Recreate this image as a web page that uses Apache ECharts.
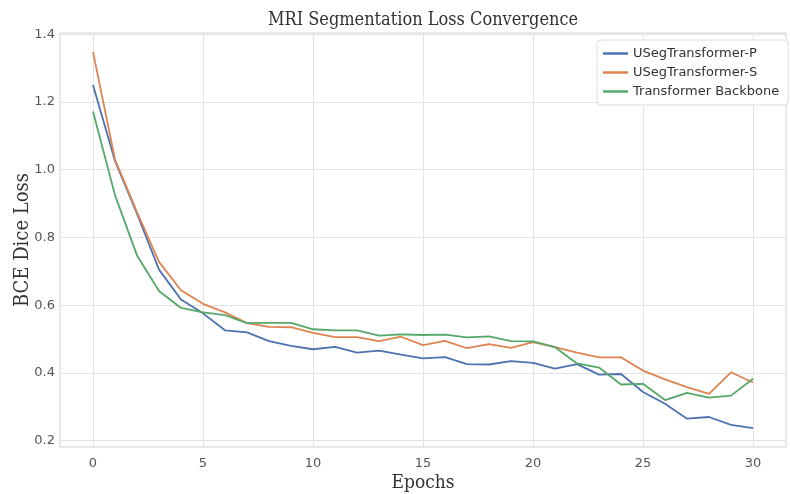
<!DOCTYPE html>
<html>
<head>
<meta charset="utf-8">
<script src="https://cdn.jsdelivr.net/npm/echarts@6/dist/echarts.min.js"></script>
<style>html,body{margin:0;padding:0;background:#fff;}#c{width:790px;height:494px;}</style>
</head>
<body>
<div id="c"></div>
<script>
const epochs = Array.from({length: 31}, (_, i) => i);
const xTicks = [0, 5, 10, 15, 20, 25, 30];
const yTicks = [0.2, 0.4, 0.6, 0.8, 1.0, 1.2, 1.4];
const seriesNames = ['USegTransformer-P', 'USegTransformer-S', 'Transformer Backbone'];
const lossP = [1.25, 1.026, 0.87, 0.705, 0.617, 0.576, 0.526, 0.52, 0.494, 0.48, 0.47, 0.477, 0.46, 0.466, 0.454, 0.443, 0.447, 0.426, 0.425, 0.435, 0.43, 0.413, 0.426, 0.395, 0.397, 0.344, 0.309, 0.265, 0.27, 0.247, 0.237];
const lossS = [1.348, 1.03, 0.875, 0.728, 0.644, 0.604, 0.579, 0.547, 0.536, 0.535, 0.518, 0.506, 0.506, 0.494, 0.507, 0.482, 0.495, 0.473, 0.485, 0.474, 0.491, 0.476, 0.46, 0.446, 0.446, 0.407, 0.381, 0.358, 0.338, 0.402, 0.372];
const lossB = [1.172, 0.925, 0.747, 0.642, 0.592, 0.579, 0.571, 0.547, 0.548, 0.548, 0.529, 0.526, 0.526, 0.510, 0.514, 0.512, 0.513, 0.505, 0.508, 0.494, 0.493, 0.476, 0.428, 0.416, 0.366, 0.368, 0.32, 0.341, 0.327, 0.333, 0.383];
const colors = ['#4c72b0', '#dd8452', '#55a868'];

const chart = echarts.init(document.getElementById('c'), null, {renderer: 'canvas'});
const allVals = lossP.concat(lossS, lossB);
const vMin = Math.min(...allVals), vMax = Math.max(...allVals);
const pad = (vMax - vMin) * 0.05;
const gridColor = '#e3e3e3';
chart.setOption({
  animation: false,
  backgroundColor: '#fff',
  title: {
    text: 'MRI Segmentation Loss Convergence',
    left: 418, top: 6, textAlign: 'center',
    textStyle: {fontFamily: 'DejaVu Serif Condensed', fontWeight: 'normal', fontSize: 18, color: '#333'}
  },
  legend: {
    orient: 'vertical', left: 597, top: 40,
    data: seriesNames,
    icon: 'rect', itemWidth: 25, itemHeight: 2.5, itemGap: 6,
    padding: [7, 9, 7, 6],
    backgroundColor: '#fff', borderColor: '#dcdcdc', borderWidth: 1, borderRadius: 4,
    textStyle: {fontFamily: 'DejaVu Sans', fontSize: 13, color: '#333'}
  },
  grid: {left: 60, right: 4, top: 33, bottom: 47, show: true, borderColor: '#d2d2d2', borderWidth: 1, backgroundColor: '#fff', containLabel: false, outerBoundsMode: 'none'},
  xAxis: {
    type: 'value', min: -1.5, max: 31.5,
    name: 'Epochs', nameLocation: 'middle', nameGap: 27, nameMoveOverlap: false,
    nameTextStyle: {fontFamily: 'DejaVu Serif Condensed', fontSize: 19, color: '#333'},
    axisLine: {show: false},
    axisTick: {show: false, customValues: xTicks},
    axisLabel: {customValues: xTicks, fontFamily: 'DejaVu Sans', fontSize: 13, color: '#555', margin: 10},
    splitLine: {show: true, lineStyle: {color: gridColor, width: 1}}
  },
  yAxis: {
    type: 'value', min: vMin - pad, max: vMax + pad,
    name: 'BCE Dice Loss', nameLocation: 'middle', nameGap: 27, nameMoveOverlap: false,
    nameTextStyle: {fontFamily: 'DejaVu Serif Condensed', fontSize: 20, color: '#333'},
    axisLine: {show: false},
    axisTick: {show: false, customValues: yTicks},
    axisLabel: {customValues: yTicks, formatter: v => v.toFixed(1), fontFamily: 'DejaVu Sans', fontSize: 13, color: '#555', margin: 5},
    splitLine: {show: true, lineStyle: {color: gridColor, width: 1}}
  },
  series: [lossP, lossS, lossB].map((d, i) => ({
    name: seriesNames[i], type: 'line', showSymbol: false, symbol: 'none',
    data: epochs.map((e, j) => [e, d[j]]),
    lineStyle: {color: colors[i], width: 1.8},
    itemStyle: {color: colors[i]}
  }))
});
</script>
</body>
</html>
